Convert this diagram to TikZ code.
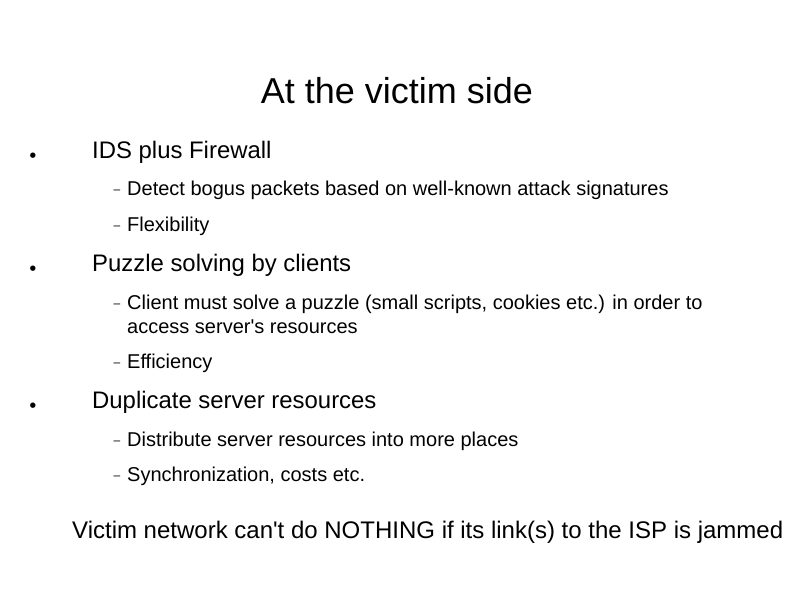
\documentclass[tikz,border=0pt]{standalone}
\usepackage{fontspec}
\setmainfont{Liberation Sans}
\newfontfamily\dejavu{DejaVu Sans}
\begin{document}
\begin{tikzpicture}[x=1pt,y=-1pt,
  title/.style={anchor=base,inner sep=0pt,font=\fontsize{36}{40}\selectfont},
  lvlone/.style={anchor=base west,inner sep=0pt,font=\fontsize{23.9}{27}\selectfont},
  lvltwo/.style={anchor=base west,inner sep=0pt,font=\fontsize{20}{24.5}\selectfont},
  bul/.style={anchor=base,inner sep=0pt,font=\dejavu\fontsize{7}{8}\selectfont},
  dsh/.style={anchor=base,inner sep=0pt,font=\fontsize{12}{14}\selectfont}]
\useasboundingbox (0,0) rectangle (794,595);
\node[title] (t) at (397,103) {At the victim side};
\node[bul] (b1) at (33,157) {●};
\node[lvlone] (l1) at (92,158) {IDS plus Firewall};
\node[dsh] (d1) at (117,193) {–};
\node[lvltwo] (s1) at (127,195) {Detect bogus packets based on well-known attack signatures};
\node[dsh] (d2) at (117,229) {–};
\node[lvltwo] (s2) at (127,231) {Flexibility};
\node[bul] (b2) at (33,270) {●};
\node[lvlone] (l2) at (92,271) {Puzzle solving by clients};
\node[dsh] (d3) at (117,307) {–};
\node[lvltwo] (s3) at (127,309) {Client must solve a puzzle (small scripts, cookies etc.) in order to};
\node[lvltwo] (s3b) at (127,333) {access server\textquotesingle s resources};
\node[dsh] (d4) at (117,366) {–};
\node[lvltwo] (s4) at (127,368) {Efficiency};
\node[bul] (b3) at (33,407) {●};
\node[lvlone] (l3) at (92,408) {Duplicate server resources};
\node[dsh] (d5) at (117,444) {–};
\node[lvltwo] (s5) at (127,446) {Distribute server resources into more places};
\node[dsh] (d6) at (117,479) {–};
\node[lvltwo] (s6) at (127,481) {Synchronization, costs etc.};
\node[lvlone,font=\fontsize{24}{27}\selectfont] (v) at (72,538) {Victim network can\textquotesingle t do NOTHING if its link(s) to the ISP is jammed};
\end{tikzpicture}
\end{document}
